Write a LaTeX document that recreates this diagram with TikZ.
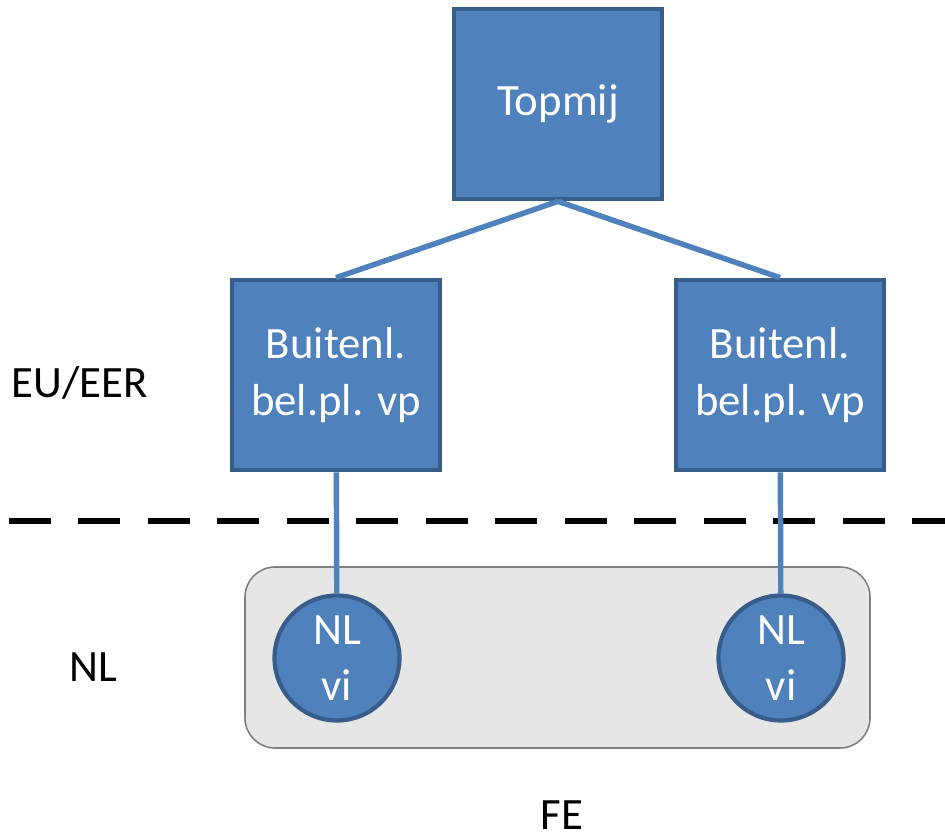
\documentclass[tikz,border=0pt]{standalone}
\usepackage{fontspec}
\setmainfont{Carlito}
\definecolor{boxblue}{HTML}{4F81BD}
\definecolor{boxedge}{HTML}{385D8A}
\definecolor{fegrey}{HTML}{E6E6E6}
\definecolor{feedge}{HTML}{7F7F7F}
\begin{document}
\begin{tikzpicture}[x=0.02cm,y=-0.02cm,
  every node/.style={font=\fontsize{25.5}{32}\selectfont},
  entity/.style={draw=boxedge,fill=boxblue,line width=2.4pt,minimum width=4.17cm,minimum height=3.81cm,text=white,align=center,inner sep=0pt},
  vi/.style={circle,draw=boxedge,fill=boxblue,line width=2.4pt,minimum size=2.5cm,text=white,align=center,inner sep=0pt},
  link/.style={draw=boxblue,line width=3.1pt}]
\useasboundingbox (0,0) rectangle (945,838);
% fiscale eenheid
\draw [fill=fegrey,draw=feedge,line width=0.9pt,rounded corners=0.6cm] (245,567) rectangle (870,748);
% grens EU/EER - NL
\draw [black,line width=3.6pt,dash pattern=on 0.84cm off 0.55cm] (9,521) -- (945,521);
\node [entity] (top) at (558,104) {Topmij};
\node [entity] (bp1) at (336,375) {Buitenl.\\bel.pl. vp};
\node [entity] (bp2) at (780,375) {Buitenl.\\bel.pl. vp};
\node [vi] (vi1) at (337,658) {NL\\vi};
\node [vi] (vi2) at (781,658) {NL\\vi};
\draw [link] (top.south) -- (bp1.north);
\draw [link] (top.south) -- (bp2.north);
\draw [link] (bp1) -- (vi1);
\draw [link] (bp2) -- (vi2);
\node (eu) at (80,383) {EU/EER};
\node (nl) at (93,667) {NL};
\node (fe) at (562,815) {FE};
\end{tikzpicture}
\end{document}
